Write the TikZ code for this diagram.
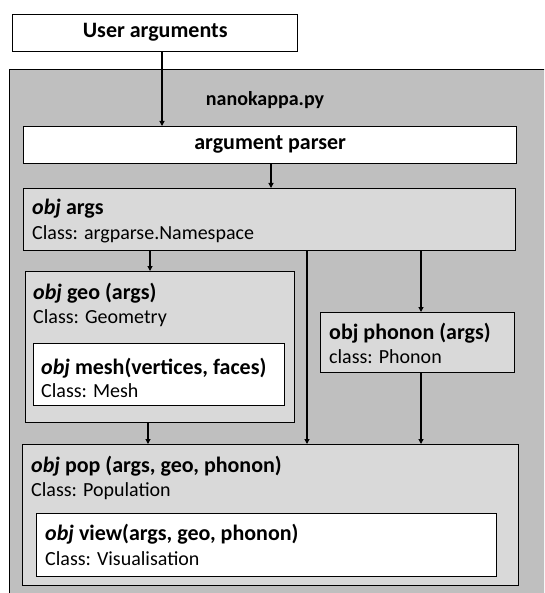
\documentclass[tikz,border=0pt]{standalone}
\usepackage{fontspec}
\setmainfont{Carlito}
\usetikzlibrary{arrows.meta}
\definecolor{outergray}{RGB}{191,191,191}
\definecolor{innergray}{RGB}{217,217,217}
\begin{document}
\begin{tikzpicture}[x=1pt,y=1pt,
  box/.style={draw=black, line width=1.4pt, rectangle, inner sep=0pt, anchor=north west},
  arr/.style={line width=1.1pt, -{Triangle[length=5pt,width=5pt]}},
  ttl/.style={anchor=base west, inner sep=0pt, font=\fontsize{22}{26}\selectfont\bfseries},
  cls/.style={anchor=base west, inner sep=0pt, font=\fontsize{20}{24}\selectfont},
  ctr/.style={anchor=center, inner sep=0pt, font=\fontsize{22}{26}\selectfont\bfseries},
]
\useasboundingbox (0,0) rectangle (544,-593);
\clip (0,0) rectangle (544,-593);
\node[box, fill=outergray, minimum width=560, minimum height=540] (main) at (9,-69) {};
\node[box, fill=white, minimum width=285, minimum height=37] (ua) at (12,-14) {};
\node[ctr] (uat) at ([yshift=1]ua.center) {User arguments};
\node[anchor=center, inner sep=0pt, font=\fontsize{20}{24}\selectfont\bfseries] (nk) at (265,-100) {nanokappa.py};
\node[box, fill=white, minimum width=493, minimum height=37] (parser) at (23,-126) {};
\node[ctr] (pt) at ([yshift=1]parser.center) {argument parser};
\node[box, fill=innergray, minimum width=492, minimum height=62] (args) at (23,-188) {};
\node[ttl] (argst) at (32,-215) {\textit{obj} args};
\node[cls] (argsc) at (32,-240) {Class: argparse.Namespace};
\node[box, fill=innergray, minimum width=269, minimum height=151] (geo) at (25,-271) {};
\node[ttl] (geot) at (33,-299) {\textit{obj} geo (args)};
\node[cls] (geoc) at (33,-323) {Class: Geometry};
\node[box, fill=white, minimum width=251, minimum height=62] (mesh) at (33,-343) {};
\node[ttl] (mesht) at (41,-374) {\textit{obj} mesh(vertices, faces)};
\node[cls] (meshc) at (41,-397) {Class: Mesh};
\node[box, fill=innergray, minimum width=194, minimum height=60] (phonon) at (320,-312) {};
\node[ttl] (phonont) at (329,-339) {obj phonon (args)};
\node[cls] (phononc) at (329,-363) {class: Phonon};
\node[box, fill=innergray, minimum width=496, minimum height=141] (pop) at (22,-444) {};
\node[ttl] (popt) at (31,-472) {\textit{obj} pop (args, geo, phonon)};
\node[cls] (popc) at (31,-496) {Class: Population};
\node[box, fill=white, minimum width=460, minimum height=63] (view) at (36,-513) {};
\node[ttl] (viewt) at (45,-540) {\textit{obj} view(args, geo, phonon)};
\node[cls] (viewc) at (45,-565) {Class: Visualisation};
\coordinate (c1) at (162,0);
\coordinate (c2) at (271,0);
\coordinate (c3) at (150,0);
\coordinate (c4) at (307,0);
\coordinate (c5) at (421,0);
\coordinate (c6) at (148,0);
\draw[arr] (c1 |- ua.south) -- (c1 |- parser.north);
\draw[arr] (c2 |- parser.south) -- (c2 |- args.north);
\draw[arr] (c3 |- args.south) -- (c3 |- geo.north);
\draw[arr] (c4 |- args.south) -- (c4 |- pop.north);
\draw[arr] (c5 |- args.south) -- (c5 |- phonon.north);
\draw[arr] (c5 |- phonon.south) -- (c5 |- pop.north);
\draw[arr] (c6 |- geo.south) -- (c6 |- pop.north);
\end{tikzpicture}
\end{document}
